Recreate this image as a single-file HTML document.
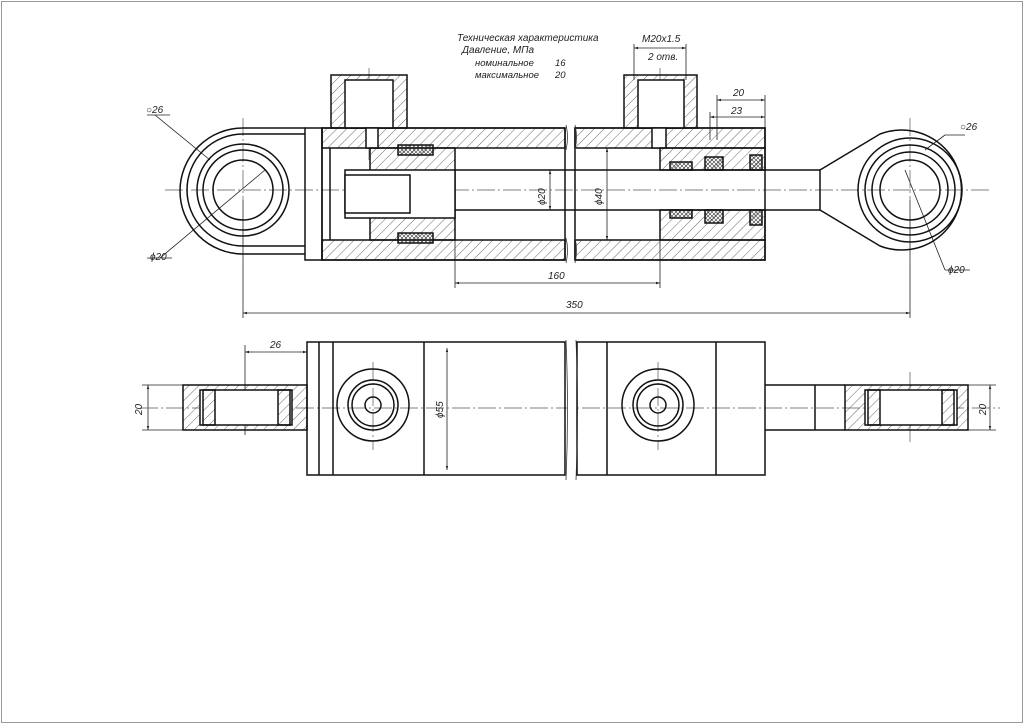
<!DOCTYPE html>
<html><head><meta charset="utf-8"><style>
html,body{margin:0;padding:0;background:#fff;}
svg{display:block;}
text{font-family:"Liberation Sans",sans-serif;font-style:italic;fill:#222;}
</style></head><body>
<svg width="1024" height="724" viewBox="0 0 1024 724" xmlns="http://www.w3.org/2000/svg">
<defs>
<pattern id="h" width="7" height="7" patternUnits="userSpaceOnUse" patternTransform="rotate(45)">
<line x1="0" y1="0" x2="0" y2="7" stroke="#444" stroke-width="0.8"/></pattern>
<pattern id="x" width="4" height="4" patternUnits="userSpaceOnUse">
<path d="M0 0L4 4M4 0L0 4" stroke="#333" stroke-width="0.6"/></pattern>
<marker id="a" viewBox="0 0 10 10" refX="10" refY="5" markerWidth="8" markerHeight="5" orient="auto-start-reverse"><path d="M0 2L10 5L0 8z" fill="#222"/></marker>
</defs>
<rect x="1.5" y="1.5" width="1021" height="721" fill="none" stroke="#999"/>
<text x="457" y="41" font-size="10">Техническая характеристика</text>
<text x="462" y="53" font-size="10">Давление, МПа</text>
<text x="475" y="66" font-size="9.5">номинальное</text><text x="555" y="66" font-size="9.5">16</text>
<text x="475" y="78" font-size="9.5">максимальное</text><text x="555" y="78" font-size="9.5">20</text>
<text x="642" y="42" font-size="10">M20x1.5</text>
<text x="648" y="60" font-size="10">2 отв.</text>
<g stroke="#222" stroke-width="0.8" fill="none">
<line x1="634" y1="48" x2="686" y2="48" marker-start="url(#a)" marker-end="url(#a)"/>
<line x1="634" y1="44" x2="634" y2="80"/><line x1="686" y1="44" x2="686" y2="80"/>
<line x1="717" y1="100" x2="765" y2="100" marker-start="url(#a)" marker-end="url(#a)"/>
<line x1="710" y1="117" x2="765" y2="117" marker-start="url(#a)" marker-end="url(#a)"/>
<line x1="765" y1="95" x2="765" y2="128"/><line x1="717" y1="95" x2="717" y2="140"/><line x1="710" y1="112" x2="710" y2="140"/>
<line x1="455" y1="283" x2="660" y2="283" marker-start="url(#a)" marker-end="url(#a)"/>
<line x1="455" y1="240" x2="455" y2="288"/><line x1="660" y1="240" x2="660" y2="288"/>
<line x1="243" y1="313" x2="910" y2="313" marker-start="url(#a)" marker-end="url(#a)"/>
<line x1="243" y1="200" x2="243" y2="318"/><line x1="910" y1="200" x2="910" y2="318"/>
<line x1="550" y1="170" x2="550" y2="210" marker-start="url(#a)" marker-end="url(#a)"/>
<line x1="607" y1="148" x2="607" y2="240" marker-start="url(#a)" marker-end="url(#a)"/>
<line x1="155" y1="115" x2="210" y2="160"/><line x1="147" y1="115" x2="170" y2="115"/>
<line x1="160" y1="258" x2="265" y2="170"/><line x1="147" y1="258" x2="172" y2="258"/>
<line x1="945" y1="135" x2="925" y2="150"/><line x1="945" y1="135" x2="965" y2="135"/>
<line x1="905" y1="170" x2="945" y2="270"/><line x1="945" y1="270" x2="970" y2="270"/>
<line x1="245" y1="352" x2="307" y2="352" marker-start="url(#a)" marker-end="url(#a)"/>
<line x1="245" y1="345" x2="245" y2="435"/>
<line x1="148" y1="385" x2="148" y2="430" marker-start="url(#a)" marker-end="url(#a)"/>
<line x1="142" y1="385" x2="190" y2="385"/><line x1="142" y1="430" x2="190" y2="430"/>
<line x1="990" y1="385" x2="990" y2="430" marker-start="url(#a)" marker-end="url(#a)"/>
<line x1="960" y1="385" x2="996" y2="385"/><line x1="960" y1="430" x2="996" y2="430"/>
<line x1="447" y1="348" x2="447" y2="470" marker-start="url(#a)" marker-end="url(#a)"/>
</g>
<g stroke="#555" stroke-width="0.7" stroke-dasharray="18 3 2 3" fill="none">
<line x1="165" y1="190" x2="990" y2="190"/><line x1="243" y1="118" x2="243" y2="262"/><line x1="910" y1="118" x2="910" y2="262"/>
<line x1="369" y1="68" x2="369" y2="160"/><line x1="660" y1="68" x2="660" y2="140"/>
<line x1="140" y1="408" x2="1000" y2="408"/><line x1="373" y1="362" x2="373" y2="450"/><line x1="658" y1="362" x2="658" y2="450"/>
<line x1="910" y1="372" x2="910" y2="445"/>
</g>
<text x="146" y="113" font-size="10">○26</text>
<text x="150" y="260" font-size="10">ϕ20</text>
<text x="960" y="130" font-size="10">○26</text>
<text x="948" y="273" font-size="10">ϕ20</text>
<text x="548" y="279" font-size="10">160</text>
<text x="566" y="308" font-size="10">350</text>
<text x="733" y="96" font-size="10">20</text>
<text x="731" y="114" font-size="10">23</text>
<text x="270" y="348" font-size="10">26</text>
<text transform="translate(545,205) rotate(-90)" font-size="10">ϕ20</text>
<text transform="translate(602,205) rotate(-90)" font-size="10">ϕ40</text>
<text transform="translate(443,418) rotate(-90)" font-size="10">ϕ55</text>
<text transform="translate(142,415) rotate(-90)" font-size="10">20</text>
<text transform="translate(986,415) rotate(-90)" font-size="10">20</text>
<g stroke="#111" stroke-width="1.5" fill="none">
<path d="M305 128 L243 128 A62 62 0 0 0 243 254 L305 254"/>
<path d="M305 134 L243 134 A56 56 0 0 0 243 246 L305 246"/>
<circle cx="243" cy="190" r="46"/><circle cx="243" cy="190" r="40"/><circle cx="243" cy="190" r="30"/>
<rect x="305" y="128" width="17" height="132"/>
<rect x="322" y="128" width="243" height="132"/>
<rect x="575" y="128" width="190" height="132"/>
<rect x="331" y="75" width="76" height="53" fill="url(#h)"/>
<rect x="345" y="80" width="48" height="48" fill="#fff"/>
<rect x="624" y="75" width="73" height="53" fill="url(#h)"/>
<rect x="638" y="80" width="46" height="48" fill="#fff"/>
<rect x="322" y="128" width="243" height="20" fill="url(#h)"/>
<rect x="322" y="240" width="243" height="20" fill="url(#h)"/>
<rect x="575" y="128" width="190" height="20" fill="url(#h)"/>
<rect x="575" y="240" width="190" height="20" fill="url(#h)"/>
<rect x="366" y="128" width="12" height="20" fill="#fff"/>
<rect x="652" y="128" width="14" height="20" fill="#fff"/>
<line x1="330" y1="148" x2="330" y2="240"/>
<path d="M370 148 L455 148 L455 240 L370 240 Z" fill="url(#h)"/>
<rect x="345" y="170" width="110" height="48" fill="#fff"/>
<rect x="345" y="175" width="65" height="38" fill="#fff"/>
<rect x="398" y="145" width="35" height="10" fill="url(#x)"/>
<rect x="398" y="233" width="35" height="10" fill="url(#x)"/>
<path d="M660 148 L765 148 L765 170 L660 170 Z" fill="url(#h)"/>
<path d="M660 210 L765 210 L765 240 L660 240 Z" fill="url(#h)"/>
<rect x="670" y="162" width="22" height="8" fill="url(#x)"/><rect x="705" y="157" width="18" height="13" fill="url(#x)"/><rect x="750" y="155" width="12" height="15" fill="url(#x)"/>
<rect x="670" y="210" width="22" height="8" fill="url(#x)"/><rect x="705" y="210" width="18" height="13" fill="url(#x)"/><rect x="750" y="210" width="12" height="15" fill="url(#x)"/>
<line x1="455" y1="170" x2="820" y2="170"/><line x1="455" y1="210" x2="820" y2="210"/>
<line x1="820" y1="170" x2="820" y2="210"/>
<path d="M820 170 L880 134 A60 60 0 1 1 880 246 L820 210"/>
<circle cx="910" cy="190" r="52"/><circle cx="910" cy="190" r="45"/><circle cx="910" cy="190" r="38"/><circle cx="910" cy="190" r="30"/>
<rect x="307" y="342" width="258" height="133"/>
<rect x="577" y="342" width="188" height="133"/>
<line x1="319" y1="342" x2="319" y2="475"/><line x1="333" y1="342" x2="333" y2="475"/>
<line x1="424" y1="342" x2="424" y2="475"/><line x1="607" y1="342" x2="607" y2="475"/><line x1="716" y1="342" x2="716" y2="475"/>
<circle cx="373" cy="405" r="36"/><circle cx="373" cy="405" r="25"/><circle cx="373" cy="405" r="21"/><circle cx="373" cy="405" r="8"/>
<circle cx="658" cy="405" r="36"/><circle cx="658" cy="405" r="25"/><circle cx="658" cy="405" r="21"/><circle cx="658" cy="405" r="8"/>
<rect x="183" y="385" width="124" height="45" fill="url(#h)"/>
<rect x="200" y="390" width="92" height="35" fill="#fff"/>
<rect x="203" y="390" width="12" height="35" fill="url(#h)"/><rect x="278" y="390" width="12" height="35" fill="url(#h)"/>
<line x1="765" y1="385" x2="845" y2="385"/><line x1="765" y1="430" x2="845" y2="430"/>
<line x1="815" y1="385" x2="815" y2="430"/>
<rect x="845" y="385" width="123" height="45" fill="url(#h)"/>
<rect x="865" y="390" width="92" height="35" fill="#fff"/>
<rect x="868" y="390" width="12" height="35" fill="url(#h)"/><rect x="942" y="390" width="12" height="35" fill="url(#h)"/>
</g>
<g stroke="#fff" stroke-width="8"><line x1="570" y1="120" x2="570" y2="150"/><line x1="570" y1="238" x2="570" y2="265"/><line x1="571" y1="335" x2="571" y2="480"/></g>
<g stroke="#333" stroke-width="0.8" fill="none">
<path d="M566 125 q3 12 0 25"/><path d="M575 125 q3 12 0 25"/>
<path d="M566 238 q3 12 0 25"/><path d="M575 238 q3 12 0 25"/>
<path d="M566 340 q3 70 0 140"/><path d="M576 340 q3 70 0 140"/>
</g>
</svg>
</body></html>
